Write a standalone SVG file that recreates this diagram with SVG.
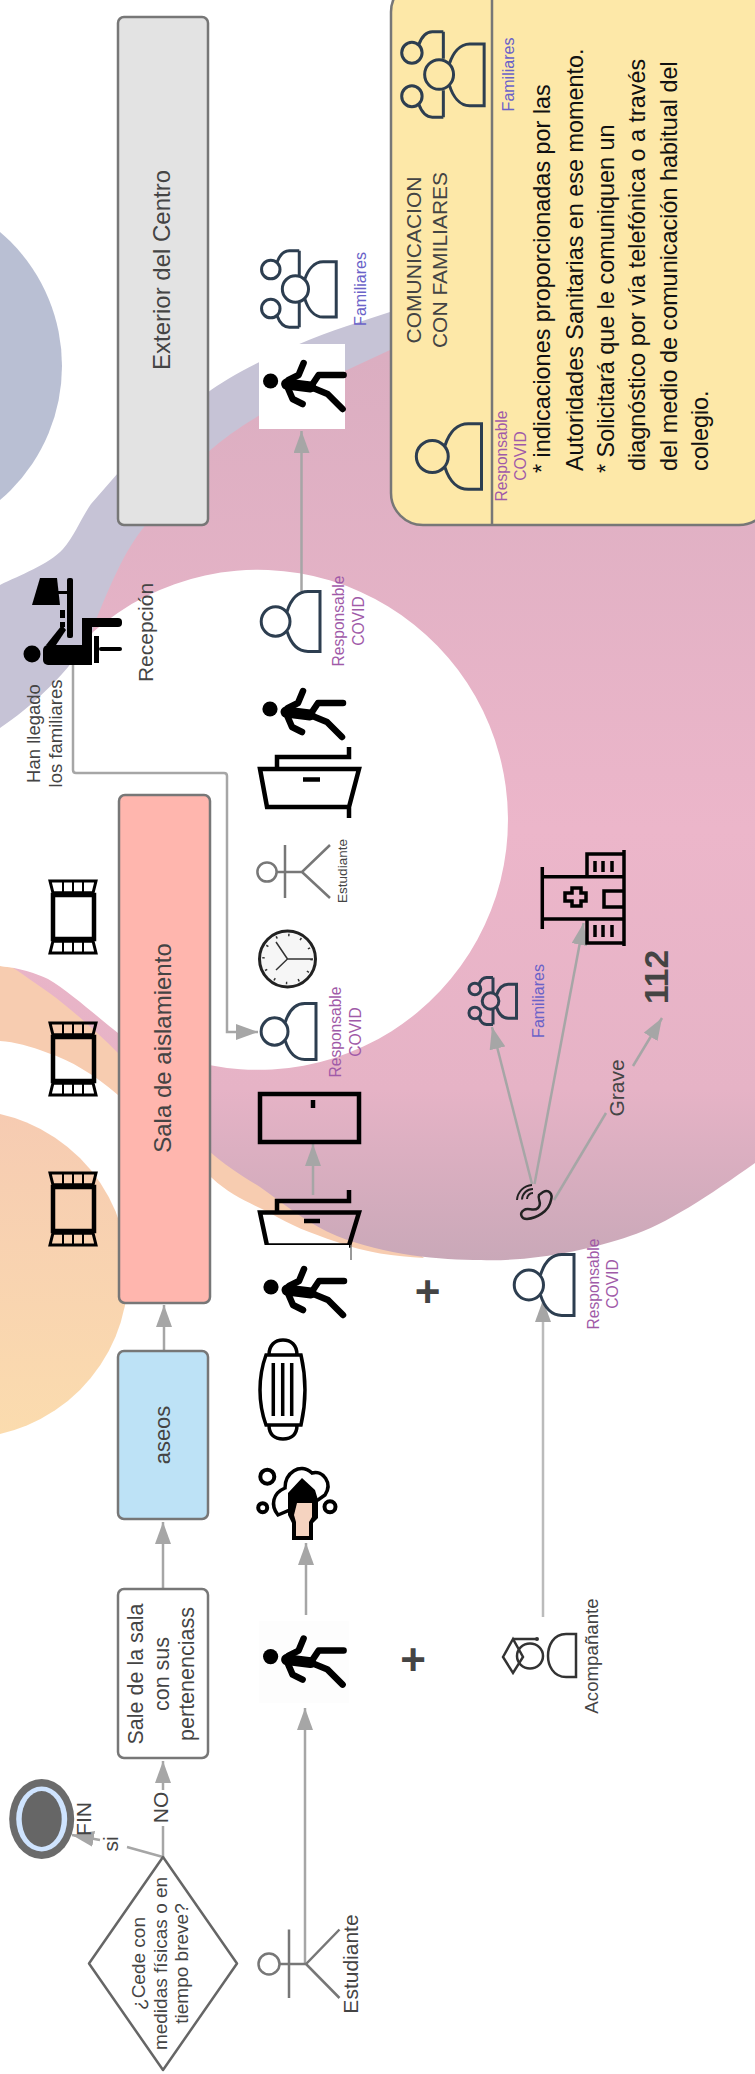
<svg xmlns="http://www.w3.org/2000/svg" width="755" height="2074" viewBox="0 0 755 2074">
<style>
text{font-family:"Liberation Sans",Arial,sans-serif;fill:#444}
.box{stroke:#777;stroke-width:2.5}
.ic{fill:none;stroke:#2d3e50;stroke-width:3;vector-effect:non-scaling-stroke}
.k{fill:none;stroke:#000;stroke-width:4.5}
.resp{fill:#a05aa8;font-size:15.6px;text-anchor:middle}
.fam{fill:#6a62c8;font-size:16px;text-anchor:middle}
.t21{font-size:21px;text-anchor:middle}
.t24{font-size:24px;text-anchor:middle}
.body{font-size:23.4px;fill:#111}
.conn{fill:none;stroke:#a6a6a6;stroke-width:2.5}
.arr{marker-end:url(#ah)}
.actor{fill:none;stroke:#777;stroke-width:2.5}
</style>
<defs>
<marker id="ah" markerUnits="userSpaceOnUse" markerWidth="22" markerHeight="16" refX="22" refY="8" orient="auto"><path d="M0,0L22,8L0,16Z" fill="#a6a6a6"/></marker>
<linearGradient id="pg" gradientUnits="userSpaceOnUse" x1="0" y1="300" x2="0" y2="1262"><stop offset="0" stop-color="#d9adc0"/><stop offset=".55" stop-color="#ecb6ca"/><stop offset=".82" stop-color="#e6b3c6"/><stop offset="1" stop-color="#c9a8b8"/></linearGradient>
<linearGradient id="og" gradientUnits="userSpaceOnUse" x1="0" y1="1110" x2="0" y2="1440"><stop offset="0" stop-color="#f6cbb2"/><stop offset="1" stop-color="#fbdcae"/></linearGradient>
<g id="person"><circle class="ic" cx="26" cy="50" r="24"/><path class="ic" d="M45,66C52,88 65,99 80,99H100V1H80C65,1 52,12 45,34"/></g>
<g id="family"><circle class="ic" cx="14" cy="25" r="12"/><circle class="ic" cx="14" cy="75" r="12"/><circle class="ic" cx="46" cy="50" r="17"/><path class="ic" d="M58,62C62,75 70,86 82,86H99V15H82C70,15 62,26 58,38"/><path class="ic" d="M51,1H38C30,1 25,8 22,16M51,1V32M51,99H38C30,99 25,92 22,84M51,99V68"/></g>
<g id="walker"><circle r="7.6" fill="#000"/><g fill="none" stroke="#000" stroke-linecap="round" stroke-linejoin="round"><path d="M16,3L40,6" stroke-width="11"/><path d="M40,6L48,-6H73M40,6L57,13L72,28M18,-1L28,-6L33,-18M16,4L22,18L32,23" stroke-width="6.5"/></g></g>
<g id="bed" fill="none" stroke="#000"><rect x="3" y="15" width="41" height="44" stroke-width="4.5"/><path d="M0,1H46L43,13H3ZM0,73H46L43,61H3Z" stroke-width="3"/><path d="M13,2V13M23,2V13M33,2V13M13,61V72M23,61V72M33,61V72" stroke-width="2"/><path d="M3,14H43M3,60H43" stroke-width="5"/></g>
</defs>

<g id="background">
<circle cx="-114" cy="366" r="176" fill="#b9bfd3"/>
<path d="M0,585C20,575 48,565 63,549C75,535 80,520 91,504L118,473C145,445 175,418 207,393C235,372 290,345 347,326L390,312L500,300V800L0,728Z" fill="#c6c3d6"/>
<path d="M0,966L20,968L300,1150L424,1258C395,1256 365,1253 337,1242C310,1233 290,1225 270,1213C250,1203 230,1195 212,1178C180,1150 150,1120 118,1095C95,1075 70,1060 48,1053C30,1046 15,1042 0,1041Z" fill="#f7ccb0"/>
<path d="M94,625C110,585 125,550 144,527C165,497 185,470 207,453C225,437 240,427 260,415C290,397 320,382 347,370L390,350L755,290V1163C710,1195 665,1225 630,1236C590,1250 530,1262 481,1260C440,1260 385,1255 337,1236C310,1225 285,1205 260,1187C240,1175 225,1165 209,1151C180,1120 150,1085 118,1053C95,1030 70,1008 48,992C35,983 20,972 10,966Z" fill="url(#pg)"/>
<path d="M0,728C30,708 70,672 93,632A250,250 0 1 1 209,1065C180,1055 145,1050 118,1033C95,1015 70,992 48,979C35,973 20,968 0,966Z" fill="#fff"/>
<circle cx="-36" cy="1274" r="164" fill="url(#og)"/>
</g>

<g id="connectors">
<path class="conn arr" d="M301.500,591V431"/>
<path class="conn arr" d="M73,665V770Q73,773 76,773H224Q227,773 227,776V1032H258"/>
<path class="conn arr" d="M313,1195V1144"/>
<path class="conn arr" d="M534.500,1184L583.600,923"/>
<path class="conn arr" d="M532,1184L492,1027"/>
<path class="conn" d="M554,1200L606,1113"/>
<path class="conn arr" d="M633,1066L662,1018"/>
<path class="conn arr" d="M164,1351V1305"/>
<path class="conn arr" d="M163,1589V1522"/>
<path class="conn" d="M163,1857V1826"/>
<path class="conn arr" d="M163,1790V1761"/>
<path class="conn" d="M163,1857L127,1847"/>
<path class="conn arr" d="M100,1840L72,1835"/>
<path class="conn arr" d="M305,1963V1708"/>
<path class="conn arr" d="M306,1615V1543"/>
<path class="conn arr" d="M543,1617V1300" style="stroke:#bbb"/>
</g>

<g id="exterior"><rect class="box" x="118" y="17" width="90" height="508" rx="6" fill="#e3e3e3"/><text class="t24" transform="translate(169.500,270) rotate(-90)">Exterior del Centro</text></g>

<g id="comunicacion">
<rect class="box" x="391" y="-20" width="380" height="545" rx="32" fill="#fde8a8"/>
<path d="M492,0V525" stroke="#777" stroke-width="2.5"/>
<use href="#family" transform="translate(400,31) scale(.85,.87)"/>
<use href="#person" transform="translate(415,423) scale(.665,.67)"/>
<text class="fam" transform="translate(514,74.500) rotate(-90)">Familiares</text>
<text class="resp" transform="translate(507,456) rotate(-90)">Responsable</text>
<text class="resp" transform="translate(526,456) rotate(-90)">COVID</text>
<text class="t21" transform="translate(421,260) rotate(-90)">COMUNICACION</text>
<text class="t21" transform="translate(447,260) rotate(-90)">CON FAMILIARES</text>
<g class="body">
<text class="body" transform="translate(550,473) rotate(-90)">* indicaciones proporcionadas por las</text>
<text class="body" transform="translate(582.500,471) rotate(-90)">Autoridades Sanitarias en ese momento.</text>
<text class="body" transform="translate(614,473) rotate(-90)">* Solicitará que le comuniquen un</text>
<text class="body" transform="translate(645,471) rotate(-90)">diagnóstico por vía telefónica o a través</text>
<text class="body" transform="translate(676.500,471) rotate(-90)">del medio de comunicación habitual del</text>
<text class="body" transform="translate(708,471) rotate(-90)">colegio.</text>
</g>
</g>

<g id="familiares-top"><use href="#family" transform="translate(260,250) scale(.77,.78)"/><text class="fam" transform="translate(366,289) rotate(-90)">Familiares</text></g>
<g id="walker-exit"><rect x="259" y="344" width="86" height="85" fill="#fff"/><use href="#walker" x="270.600" y="381"/></g>
<g id="responsable-exit"><use href="#person" transform="translate(260,591) scale(.6,.61)"/><text class="resp" transform="translate(344,621) rotate(-90)">Responsable</text><text class="resp" transform="translate(364,621) rotate(-90)">COVID</text></g>

<g id="recepcion">
<g fill="#000"><circle cx="32" cy="654" r="8.500"/><path d="M32,605L40,578H57L60,605Z"/><rect x="57" y="591" width="10" height="3"/><rect x="67" y="578" width="6" height="60" rx="2"/><rect x="60" y="610" width="5" height="8"/><rect x="60" y="622" width="5" height="5"/><rect x="43" y="645" width="49" height="20" rx="5"/><rect x="82" y="618" width="10" height="47"/><rect x="82" y="618" width="40" height="9" rx="4"/><rect x="94" y="636" width="5" height="27"/><rect x="99" y="647" width="23" height="4" rx="2"/><path d="M46,645L62,625L66,630L54,648Z"/></g>
<text class="t21" transform="translate(153,632.500) rotate(-90)">Recepción</text>
<text font-size="18.500" text-anchor="middle" transform="translate(39.500,733.500) rotate(-90)">Han llegado</text>
<text font-size="18.500" text-anchor="middle" transform="translate(62,733.500) rotate(-90)">los familiares</text>
</g>

<g id="walker-door"><use href="#walker" x="270" y="709"/></g>
<g id="door-open-1"><path class="k" d="M260,769H359L349,807H267ZM277,769V757H349V747M349,807V818M303,779.500H320"/></g>
<g id="estudiante-small"><ellipse class="actor" cx="267" cy="872" rx="9.600" ry="9.600"/><path class="actor" d="M277,872H302L330,845M302,872L330,898M285,845V898"/><text font-size="13.500" text-anchor="middle" transform="translate(346.500,871) rotate(-90)">Estudiante</text></g>
<g id="clock"><circle cx="287.500" cy="959" r="28" fill="#f6f6f6" stroke="#222" stroke-width="3"/><circle cx="287.500" cy="959" r="24" fill="none" stroke="#333" stroke-width="2.500" stroke-dasharray="1.500 11.060"/><path d="M276,942L287.500,959L276,970M287.500,959H313" fill="none" stroke="#333" stroke-width="1.500"/></g>
<g id="responsable-sala"><use href="#person" transform="translate(260,1003) scale(.56,.57)"/><text class="resp" transform="translate(341,1032) rotate(-90)">Responsable</text><text class="resp" transform="translate(361,1032) rotate(-90)">COVID</text></g>
<g id="door-closed"><rect class="k" x="260" y="1094" width="99" height="48"/><path class="k" d="M313,1100V1108"/></g>
<g id="door-open-2"><path class="k" d="M260,1212.500H359L349,1245.500H267ZM277,1212.500V1201H349V1190M304,1221H320"/></g>
<g id="walker-sala"><rect x="259" y="1245" width="90" height="85" fill="#fff"/><path d="M351,1245V1260" stroke="#777" stroke-width="1.500"/><use href="#walker" x="271" y="1287"/></g>
<g id="mask"><path fill="none" stroke="#000" stroke-width="3.500" d="M266,1355H301C306,1377 306,1403 301,1425H266C258,1403 258,1377 266,1355ZM269,1355C269,1345 275,1340 283,1340C291,1340 297,1345 297,1355M269,1425C269,1435 275,1439 283,1439C291,1439 297,1435 297,1425M273.300,1363V1416M282.700,1363V1416M291.700,1363V1416"/></g>
<g id="handwash">
<circle cx="267.300" cy="1476.700" r="7" fill="none" stroke="#000" stroke-width="4"/><circle cx="262.700" cy="1507.700" r="4.500" fill="none" stroke="#000" stroke-width="4"/><circle cx="330" cy="1506.700" r="5.500" fill="none" stroke="#000" stroke-width="4"/>
<path d="M278,1515C270,1505 273,1493 285,1488C285,1473 300,1462 312,1473C323,1470 333,1483 325,1495L318,1500L290,1510Z" fill="#fff" stroke="#000" stroke-width="3.500"/>
<path d="M288,1493L302,1478L315,1490L318,1500V1518L313,1523V1540H292V1523L288,1515Z" fill="#000"/>
<path d="M297,1503H312V1517L309,1522V1536H296V1522L294,1515Z" fill="#f5d3c0"/>
</g>
<g id="walker-start"><rect x="259" y="1621" width="90" height="82" fill="#fdfdfd"/><use href="#walker" x="270.600" y="1656.600"/></g>

<g id="plus-1"><text font-size="44" font-weight="700" text-anchor="middle" x="427.500" y="1306.500">+</text></g>
<g id="plus-2"><text font-size="44" font-weight="700" text-anchor="middle" x="413" y="1674.500">+</text></g>

<g id="responsable-phone"><use href="#person" transform="translate(513,1254) scale(.61,.62)"/><text class="resp" transform="translate(598.500,1284) rotate(-90)">Responsable</text><text class="resp" transform="translate(618,1284) rotate(-90)">COVID</text></g>
<g id="phone"><path fill="none" stroke="#222" stroke-width="2.500" d="M543,1192C549,1189 553,1194 551,1200C549,1212 536,1218 527,1219C521,1219 519,1213 524,1210C528,1207 534,1212 538,1208C543,1203 537,1200 539,1195Z"/><path fill="none" stroke="#222" stroke-width="2" d="M527,1199A6,6 0 0 1 533,1193M522,1199.500A11,11 0 0 1 533,1189M517,1200A16,16 0 0 1 532,1185"/></g>
<g id="familiares-phone"><use href="#family" transform="translate(468,977) scale(.49,.48)"/><text class="fam" transform="translate(544,1001) rotate(-90)">Familiares</text></g>
<g id="hospital"><path fill="none" stroke="#000" stroke-width="3.500" d="M542.300,867V929M542,876.700H623M542,919H623M587,876.700V854H623M587,919V943H623M624,850V946M595,861V872M603,861V872M612,861V872M595,925V937M603,925V937M612,925V937M623,891H604V907H623M572,888H581V893H586V901H581V906H572V901H565V893H572Z"/></g>
<g id="grave"><text class="t21" transform="translate(624,1088) rotate(-90)">Grave</text></g>
<g id="n112"><text font-size="33.500" font-weight="700" text-anchor="middle" transform="translate(668,977) rotate(-90)">112</text></g>

<g id="beds"><use href="#bed" x="50" y="880"/><use href="#bed" x="50" y="1022"/><use href="#bed" x="50" y="1172"/></g>
<g id="sala"><rect class="box" x="119" y="795" width="91" height="508" rx="6" fill="#ffb6ae"/><text class="t24" transform="translate(170.500,1048) rotate(-90)">Sala de aislamiento</text></g>
<g id="aseos"><rect class="box" x="118" y="1351" width="90" height="168" rx="6" fill="#bde2f6"/><text font-size="22" text-anchor="middle" transform="translate(169.500,1435) rotate(-90)">aseos</text></g>
<g id="sale"><rect class="box" x="118" y="1589" width="90" height="169" rx="6" fill="#fff"/><g font-size="21.500" text-anchor="middle"><text transform="translate(143,1674) rotate(-90)">Sale de la sala</text><text transform="translate(168.500,1674) rotate(-90)">con sus</text><text transform="translate(194,1674) rotate(-90)">pertenenciass</text></g></g>
<g id="decision"><path d="M163,1857L237,1963.500L163,2070L89,1963.500Z" fill="#fff" stroke="#666" stroke-width="2.500" stroke-linejoin="round"/><g font-size="19" text-anchor="middle"><text transform="translate(145,1963.500) rotate(-90)">¿Cede con</text><text transform="translate(166.700,1963.500) rotate(-90)">medidas físicas o en</text><text transform="translate(188,1963.500) rotate(-90)">tiempo breve?</text></g></g>
<g id="fin"><ellipse cx="41.700" cy="1819" rx="32.500" ry="40" fill="#6b6b6b"/><ellipse cx="41.700" cy="1819" rx="25.500" ry="32.500" fill="#cfe4ff"/><ellipse cx="41.700" cy="1819" rx="20" ry="28" fill="#666"/><text class="t21" transform="translate(90.500,1819) rotate(-90)">FIN</text></g>
<g id="labels"><text class="t21" transform="translate(168,1807.500) rotate(-90)">NO</text><text class="t21" transform="translate(118,1844) rotate(-90)">si</text></g>
<g id="estudiante"><circle class="actor" cx="269" cy="1964" r="10.500"/><path class="actor" d="M279.500,1964H306L339.500,1929.500M306,1964L339.500,1998M289,1929.500V1998"/><text class="t21" transform="translate(358,1964) rotate(-90)">Estudiante</text></g>
<g id="acompanante"><path fill="none" stroke="#333" stroke-width="2.500" d="M503,1657L513,1639L523,1657L513,1673ZM513,1639H537"/><circle cx="537" cy="1639" r="2" fill="#333"/><ellipse cx="530" cy="1656" rx="13" ry="12.500" fill="none" stroke="#333" stroke-width="2.500"/><path fill="none" stroke="#333" stroke-width="2.500" d="M576,1634V1677H566C553,1677 548,1665 548,1656C548,1646 553,1634 566,1634Z"/><text font-size="18.700" text-anchor="middle" transform="translate(598,1656) rotate(-90)">Acompañante</text></g>
</svg>
